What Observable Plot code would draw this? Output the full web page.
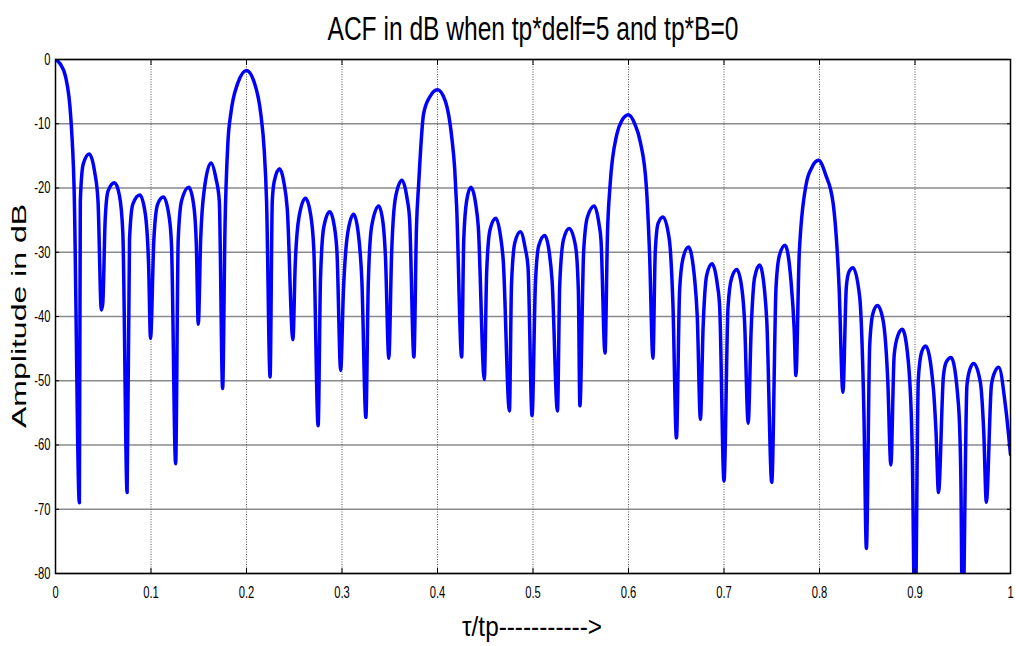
<!DOCTYPE html>
<html><head><meta charset="utf-8">
<script src="https://cdn.jsdelivr.net/npm/d3@7"></script>
<script src="https://cdn.jsdelivr.net/npm/@observablehq/plot@0.6"></script>
<style>body{margin:0;background:#fff;} svg{display:block}</style>
</head><body>
<div id="chart"></div>
<script>
// τ/tp values
const tau = [
  0, 0.005, 0.0106, 0.016, 0.0194, 0.025,
  0.026, 0.029, 0.0353, 0.041, 0.0445, 0.048, 0.0495,
  0.052, 0.055, 0.0618, 0.067, 0.0705, 0.075,
  0.0775, 0.081, 0.0883, 0.094, 0.0975, 0.0995,
  0.103, 0.107, 0.113, 0.119, 0.1215, 0.1258,
  0.1285, 0.132, 0.1396, 0.145, 0.1475, 0.1495,
  0.152, 0.156, 0.1628, 0.168, 0.1715, 0.175,
  0.1775, 0.1805, 0.1837, 0.1906, 0.2, 0.208, 0.215, 0.2185, 0.221, 0.2247,
  0.227, 0.229, 0.2347, 0.239, 0.2427, 0.2486,
  0.251, 0.255, 0.2618, 0.267, 0.2705, 0.275,
  0.2775, 0.281, 0.2872, 0.292, 0.2948, 0.2986,
  0.3015, 0.306, 0.3122, 0.317, 0.3208, 0.325,
  0.3275, 0.331, 0.3385, 0.343, 0.3455, 0.349,
  0.352, 0.356, 0.3628, 0.368, 0.3708, 0.3753,
  0.378, 0.3802, 0.3854, 0.392, 0.4, 0.408, 0.415, 0.418, 0.42, 0.4253,
  0.4275, 0.4305, 0.435, 0.44, 0.4427, 0.449,
  0.4515, 0.455, 0.4611, 0.466, 0.4688, 0.4753,
  0.4775, 0.481, 0.4868, 0.492, 0.4948, 0.499,
  0.5025, 0.506, 0.5123, 0.517, 0.52, 0.5256,
  0.528, 0.532, 0.5379, 0.5446, 0.5475, 0.5491,
  0.553, 0.557, 0.5642, 0.569, 0.5712, 0.5754,
  0.578, 0.5807, 0.5877, 0.593, 0.6, 0.6065, 0.6123, 0.6186, 0.622, 0.6256,
  0.628, 0.631, 0.6361, 0.6428, 0.6465, 0.6502,
  0.6535, 0.657, 0.6628, 0.6694, 0.672, 0.6753,
  0.6781, 0.682, 0.6875, 0.693, 0.6955, 0.7,
  0.7042, 0.708, 0.7135, 0.719, 0.7215, 0.7253,
  0.7285, 0.732, 0.7372, 0.7425, 0.7448, 0.75,
  0.7545, 0.758, 0.7639, 0.7701, 0.7735, 0.7753,
  0.7788, 0.7858, 0.792, 0.799, 0.8066, 0.8142, 0.8205, 0.8245,
  0.8281, 0.831, 0.8351, 0.8421, 0.8465, 0.8491,
  0.8526, 0.856, 0.8607, 0.8667, 0.8715, 0.8747,
  0.8782, 0.882, 0.8867, 0.893, 0.897, 0.9,
  0.9035, 0.907, 0.9112, 0.9193, 0.922, 0.9246,
  0.9298, 0.933, 0.9379, 0.9456, 0.948, 0.9498,
  0.9544, 0.958, 0.9614, 0.9684, 0.972, 0.9747,
  0.98, 0.984, 0.9877, 0.9947, 1.0
];
// ACF amplitude in dB (nulls below -80 are off the axes)
const ampDb = [
  0, -0.7, -2.7, -9, -19.6, -69,
  -22, -16.3, -14.7, -17.5, -22, -39, -38,
  -25, -20.5, -19.2, -21.2, -27, -67.4,
  -28, -22.5, -21.1, -24, -32, -43.4,
  -28, -22.5, -21.4, -24.5, -29, -62.9,
  -28, -22, -19.9, -23, -29, -41.2,
  -28, -20, -16.1, -18.5, -22, -51.2,
  -26, -13, -8.3, -3.8, -1.7, -3.5, -8.5, -14, -22, -49.4,
  -22, -19, -17, -19, -23.3, -43.6,
  -32, -24.5, -21.6, -24, -29.6, -57,
  -34, -26, -23.7, -26, -30.2, -48.4,
  -36, -27, -24.1, -27, -34.4, -55.7,
  -35, -26, -22.8, -25.5, -30.7, -46.5,
  -30, -21.5, -18.8, -21.5, -24.9, -46.3,
  -26, -19.6, -8.5, -5.8, -4.7, -6.4, -12.2, -17, -22.8, -46.3,
  -28, -22, -19.9, -22.5, -26, -49.8,
  -33, -26.5, -24.7, -27.5, -31.2, -54.7,
  -35, -28.5, -26.8, -29.5, -32.3, -55.4,
  -35, -29, -27.4, -30, -34.4, -54.7,
  -35, -28, -26.3, -29.1, -36, -53.9,
  -30, -24.5, -22.8, -25.5, -28.1, -45.7,
  -27, -19.6, -11.7, -9.5, -8.6, -10, -12.8, -19.6, -30, -46.5,
  -30, -25.5, -24.5, -28.1, -38, -58.9,
  -36, -31, -29.2, -34.4, -40, -56,
  -41.8, -33.5, -31.8, -35, -38.6, -65.6,
  -38.6, -34, -32.7, -36, -40.7, -56.6,
  -41.8, -34, -32, -36, -40.7, -65.8,
  -35.4, -30.5, -28.9, -34.4, -42, -49.2,
  -30.2, -19.6, -16.8, -15.7, -18, -22.3, -35.4, -51.8,
  -35.4, -33, -32.4, -37, -55, -76.1,
  -44.4, -39.5, -38.3, -40.7, -50, -63.1,
  -46, -43, -42, -47, -60, -90,
  -49.7, -45.5, -44.6, -51.3, -58, -67.4,
  -49.2, -47, -46.4, -53.9, -65, -90,
  -50.7, -48, -47.3, -50.2, -58, -68.9,
  -50.7, -48.5, -47.9, -53.9, -61.5
];
const xTicks = [0, 0.1, 0.2, 0.3, 0.4, 0.5, 0.6, 0.7, 0.8, 0.9, 1];
const xTickLabels = ["0", "0.1", "0.2", "0.3", "0.4", "0.5", "0.6", "0.7", "0.8", "0.9", "1"];
const yTicks = [0, -10, -20, -30, -40, -50, -60, -70, -80];
const yTickLabels = ["0", "-10", "-20", "-30", "-40", "-50", "-60", "-70", "-80"];
const titleText = "ACF in dB when tp*delf=5 and tp*B=0";
const xLabelText = "τ/tp----------->";
const yLabelText = "Amplitude in dB";

const data = tau.map((t, i) => ({t, a: ampDb[i]}));
const fmtX = d => xTickLabels[xTicks.indexOf(d)];
const fmtY = d => yTickLabels[yTicks.indexOf(d)];

const chart = Plot.plot({
  width: 1016, height: 646,
  marginTop: 59, marginBottom: 73, marginLeft: 55, marginRight: 6,
  x: {domain: [0, 1]},
  y: {domain: [-80, 0]},
  style: {fontFamily: "'Liberation Sans', Arial, sans-serif", fontSize: "17px", background: "#fff", color: "#000", overflow: "visible"},
  marks: [
    Plot.gridY(yTicks, {stroke: "#8a8a8a", strokeOpacity: 1, strokeWidth: 1.5}),
    Plot.gridX(xTicks, {stroke: "#555", strokeOpacity: 1, strokeWidth: 1, strokeDasharray: "1,1.5"}),
    Plot.line(data, {x: "t", y: "a", stroke: "#0000ff", strokeWidth: 3.5, curve: "monotone-x", clip: true}),
    Plot.frame({stroke: "#000", strokeWidth: 1.5}),
    Plot.axisX(xTicks, {anchor: "bottom", tickSize: -5, tickFormat: () => "", label: null}),
    Plot.axisX(xTicks, {anchor: "top", tickSize: -5, tickFormat: () => "", label: null}),
    Plot.axisY(yTicks, {anchor: "left", tickSize: -4, tickFormat: () => "", label: null}),
    Plot.axisY(yTicks, {anchor: "right", tickSize: -4, tickFormat: () => "", label: null}),
    Plot.axisX(xTicks, {anchor: "bottom", tickSize: 0, tickPadding: 12, tickFormat: fmtX, label: null}),
    Plot.axisY(yTicks, {anchor: "left", tickSize: 0, tickPadding: 5, tickFormat: fmtY, label: null})
  ]
});
document.getElementById("chart").append(chart);

const svg = d3.select(chart);
// condensed tick labels, as in the reference
svg.selectAll('g[aria-label$="tick label"] text').each(function () {
  const w = this.getComputedTextLength();
  if (w > 0) {
    this.setAttribute("textLength", (w * 0.66).toFixed(1));
    this.setAttribute("lengthAdjust", "spacingAndGlyphs");
  }
});
svg.append("text")
  .attr("x", 533).attr("y", 40)
  .attr("text-anchor", "middle")
  .attr("font-size", 34)
  .attr("fill", "#000")
  .attr("textLength", 411).attr("lengthAdjust", "spacingAndGlyphs")
  .text(titleText);
svg.append("text")
  .attr("x", 532).attr("y", 636)
  .attr("text-anchor", "middle")
  .attr("font-size", 28)
  .attr("fill", "#000")
  .attr("textLength", 140).attr("lengthAdjust", "spacingAndGlyphs")
  .text(xLabelText);
svg.append("text")
  .attr("transform", "translate(26,316) rotate(-90) scale(1,0.65)")
  .attr("text-anchor", "middle")
  .attr("font-size", 32)
  .attr("fill", "#000")
  .text(yLabelText);
</script>
</body></html>
